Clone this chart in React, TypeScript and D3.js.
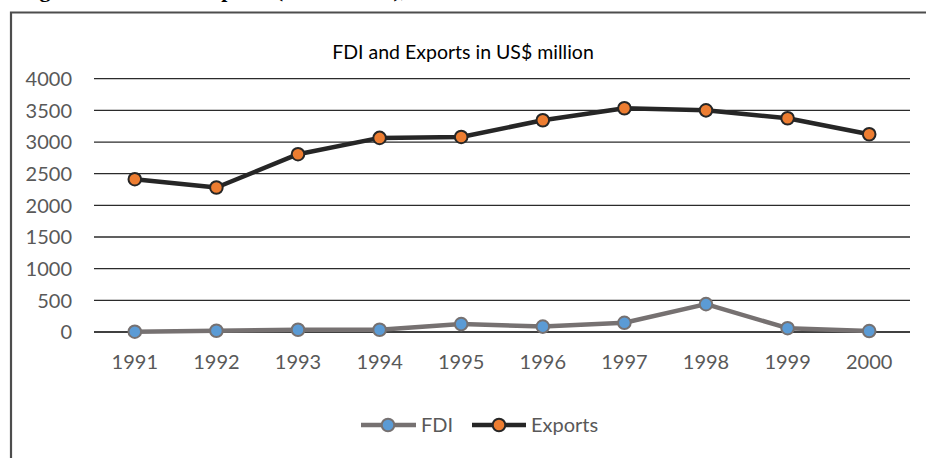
import React from "react";
import * as d3 from "d3";

const years = ["1991", "1992", "1993", "1994", "1995", "1996", "1997", "1998", "1999", "2000"];
const fdi = [5, 20, 35, 35, 125, 85, 145, 440, 60, 15];
const exportsVals = [2413, 2282, 2808, 3065, 3080, 3344, 3533, 3500, 3375, 3123];
const yTicks = [0, 500, 1000, 1500, 2000, 2500, 3000, 3500, 4000];

const W = 926;
const H = 458;
const FONT = "Lato, 'Open Sans', sans-serif";

export default function App() {
  const x = d3.scaleBand<string>().domain(years).range([94, 910]);
  const y = d3.scaleLinear().domain([0, 4000]).range([332, 78.7]);
  const cx = (d: string) => (x(d) as number) + x.bandwidth() / 2;
  const line = d3
    .line<number>()
    .x((_, i) => cx(years[i]))
    .y((v) => y(v));

  const series = [
    { name: "FDI", values: fdi, stroke: "#767171", fill: "#5b9bd5" },
    { name: "Exports", values: exportsVals, stroke: "#262626", fill: "#ed7d31" },
  ];

  return (
    <svg
      width={W}
      height={H}
      style={{ position: "absolute", left: 0, top: 0, background: "#fff" }}
    >
      <text
        x={20}
        y={-3}
        fontFamily="'Liberation Serif', serif"
        fontWeight="bold"
        fontSize={22}
        fill="#000"
      >
        Figure 2: FDI and Exports (US$ million), 1991-2000
      </text>
      <path d={`M11,${H + 5} V12.5 H${W + 5}`} fill="none" stroke="#4d4d4d" strokeWidth={2.2} />
      <text x={463} y={59} textAnchor="middle" fontFamily={FONT} fontSize={19.5} fill="#000">
        FDI and Exports in US$ million
      </text>
      {yTicks.map((t) => (
        <g key={t}>
          <line x1={94} x2={910} y1={y(t)} y2={y(t)} stroke={t === 0 ? "#000" : "#2b2b2b"} strokeWidth={t === 0 ? 1.6 : 1.3} />
          <text x={72} y={y(t)} dy="0.36em" textAnchor="end" fontFamily={FONT} fontSize={20} fill="#595959">
            {t}
          </text>
        </g>
      ))}
      {years.map((yr) => (
        <text key={yr} x={cx(yr)} y={369} textAnchor="middle" fontFamily={FONT} fontSize={20} fill="#595959">
          {yr}
        </text>
      ))}
      {series.map((s) => (
        <g key={s.name}>
          <path d={line(s.values) || ""} fill="none" stroke={s.stroke} strokeWidth={4.5} strokeLinejoin="round" />
          {s.values.map((v, i) => (
            <circle key={i} cx={cx(years[i])} cy={y(v)} r={6.3} fill={s.fill} stroke={s.stroke} strokeWidth={2} />
          ))}
        </g>
      ))}
      <g>
        <line x1={361} x2={416} y1={425} y2={425} stroke="#767171" strokeWidth={4.5} />
        <circle cx={388} cy={425} r={6.3} fill="#5b9bd5" stroke="#767171" strokeWidth={2} />
        <text x={421} y={425} dy="0.36em" fontFamily={FONT} fontSize={20} fill="#595959">FDI</text>
        <line x1={472} x2={526} y1={425} y2={425} stroke="#262626" strokeWidth={4.5} />
        <circle cx={499} cy={425} r={6.3} fill="#ed7d31" stroke="#262626" strokeWidth={2} />
        <text x={531} y={425} dy="0.36em" fontFamily={FONT} fontSize={20} fill="#595959">Exports</text>
      </g>
    </svg>
  );
}
